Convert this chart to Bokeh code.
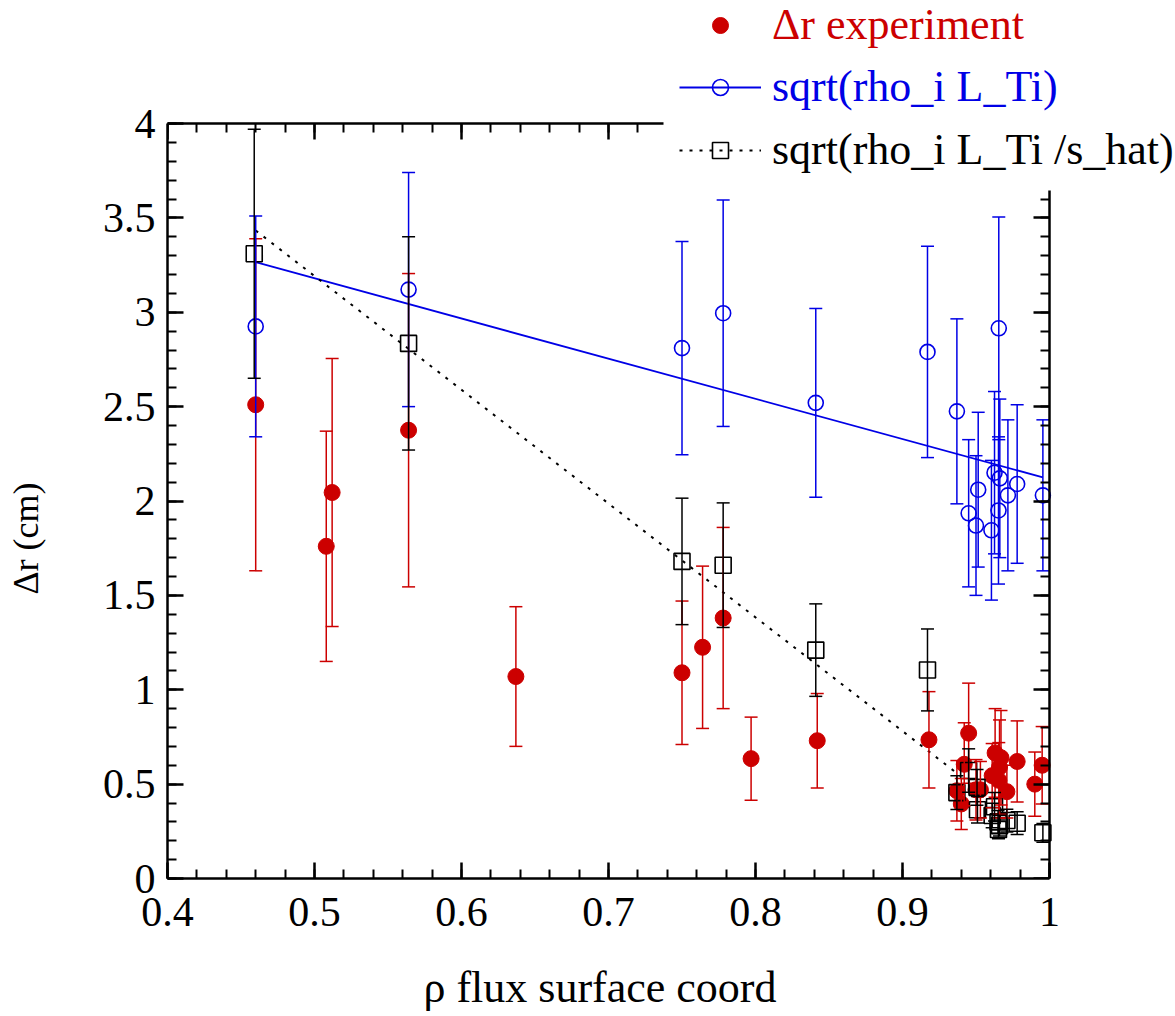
from bokeh.plotting import figure
from bokeh.models import (ColumnDataSource, Whisker, TeeHead, LinearAxis, Legend, LegendItem,
                          SingleIntervalTicker, CustomJSTickFormatter, Range1d)
from bokeh.embed import file_html
from bokeh.resources import INLINE

# ---------------- data ----------------
# Delta r experiment
exp_x = [0.460, 0.508, 0.512, 0.564, 0.637, 0.750, 0.764, 0.778, 0.797, 0.842,
         0.918, 0.937, 0.940, 0.942, 0.945, 0.950, 0.953, 0.961, 0.963, 0.966,
         0.967, 0.9655, 0.971, 0.978, 0.990, 0.995]
exp_y = [2.51, 1.76, 2.045, 2.375, 1.07, 1.09, 1.225, 1.38, 0.635, 0.73,
         0.735, 0.465, 0.395, 0.605, 0.77, 0.47, 0.47, 0.545, 0.665, 0.59,
         0.64, 0.52, 0.46, 0.62, 0.50, 0.60]
exp_err = [0.88, 0.61, 0.71, 0.83, 0.37, 0.38, 0.43, 0.48, 0.22, 0.25,
           0.255, 0.16, 0.135, 0.22, 0.265, 0.16, 0.15, 0.17, 0.235, 0.25,
           0.25, 0.20, 0.14, 0.215, 0.17, 0.205]

# sqrt(rho_i L_Ti)
ti_x = [0.460, 0.564, 0.750, 0.778, 0.841, 0.917, 0.937, 0.945, 0.950, 0.9515,
        0.9605, 0.9626, 0.9653, 0.9655, 0.9662, 0.9717, 0.978, 0.9955]
ti_y = [2.925, 3.12, 2.81, 2.995, 2.52, 2.79, 2.475, 1.935, 1.87, 2.06,
        1.845, 2.15, 1.95, 2.915, 2.12, 2.03, 2.09, 2.03]
ti_err = [0.585, 0.62, 0.565, 0.60, 0.50, 0.56, 0.49, 0.39, 0.37, 0.41,
          0.37, 0.43, 0.39, 0.59, 0.42, 0.40, 0.42, 0.40]

# sqrt(rho_i L_Ti / s_hat)
sh_x = [0.459, 0.564, 0.750, 0.778, 0.841, 0.917, 0.937, 0.945, 0.9507, 0.951,
        0.961, 0.9626, 0.965, 0.966, 0.9653, 0.971, 0.978, 0.9955]
sh_y = [3.31, 2.835, 1.68, 1.66, 1.21, 1.105, 0.455, 0.572, 0.483, 0.364,
        0.334, 0.38, 0.30, 0.28, 0.26, 0.307, 0.293, 0.242]
sh_err = [0.66, 0.565, 0.335, 0.33, 0.245, 0.217, 0.09, 0.115, 0.095, 0.07,
          0.065, 0.075, 0.06, 0.055, 0.05, 0.06, 0.06, 0.05]

# fitted trend lines (end points)
fit_ti_x = [0.46, 0.9955]
fit_ti_y = [3.265, 2.125]
fit_sh_x = [0.46, 0.94]
fit_sh_y = [3.433, 0.54]

x_lo, x_hi = 0.4, 1.0
y_lo, y_hi = 0.0, 4.0
x_ticks_interval = 0.1
y_ticks_interval = 0.5

labels = ["\u0394r experiment", "sqrt(rho_i L_Ti)", "sqrt(rho_i L_Ti /s_hat)"]
x_title = "\u03c1 flux surface coord"
y_title = "\u0394r (cm)"
RED = "#cc0000"
BLUE = "#0000e6"
BLACK = "#000000"
FONT = "Liberation Serif"

# layout geometry (pixels)
W, H = 1175, 1016
FRAME_L, FRAME_R, FRAME_T, FRAME_B = 167, 1049, 123, 878
LEGEND_L, LEGEND_B = 663, 190   # area hidden by the legend box


def src(x, y, e):
    return ColumnDataSource(dict(x=x, y=y,
                                 upper=[a + b for a, b in zip(y, e)],
                                 lower=[a - b for a, b in zip(y, e)]))


# the drawing area extends to the top and right canvas edges so that the
# legend (which overlaps the box corner) is not clipped; the box itself is
# drawn with bounded / fixed-location axes.
px_per_x = (FRAME_R - FRAME_L) / (x_hi - x_lo)
px_per_y = (FRAME_B - FRAME_T) / (y_hi - y_lo)
xr_end = x_lo + (W - FRAME_L) / px_per_x
yr_end = y_lo + FRAME_B / px_per_y
top_bound = x_lo + (LEGEND_L - FRAME_L) / px_per_x
right_bound = y_lo + (FRAME_B - LEGEND_B) / px_per_y

p = figure(width=W, height=H, output_backend="svg", toolbar_location=None,
           x_range=Range1d(x_lo, xr_end), y_range=Range1d(y_lo, yr_end),
           x_axis_type=None, y_axis_type=None,
           min_border_left=FRAME_L, min_border_right=0,
           min_border_top=0, min_border_bottom=H - FRAME_B)
p.outline_line_color = None
p.background_fill_color = "white"
p.border_fill_color = "white"

fmt = CustomJSTickFormatter(code="return String(Math.round(tick*1000)/1000);")


def make_axis(ticker, bounds, show_labels, fixed=None):
    ax = LinearAxis(ticker=ticker, formatter=fmt, bounds=bounds)
    if fixed is not None:
        ax.fixed_location = fixed
    ax.axis_line_width = 2.5
    ax.axis_line_color = "black"
    ax.major_tick_line_width = 2.5
    ax.minor_tick_line_width = 2
    ax.major_tick_in = 16
    ax.major_tick_out = 0
    ax.minor_tick_in = 9
    ax.minor_tick_out = 0
    ax.major_label_text_font = FONT
    ax.major_label_text_color = "black"
    if show_labels:
        ax.major_label_text_font_size = "42px"
    else:
        ax.major_label_text_font_size = "0px"
        ax.major_label_text_alpha = 0
    return ax


NB = "\u00a0"

bottom = make_axis(SingleIntervalTicker(interval=x_ticks_interval, num_minor_ticks=5),
                   (x_lo, x_hi), True)
bottom.axis_label = x_title + NB * 13
bottom.axis_label_text_font = FONT
bottom.axis_label_text_font_style = "normal"
bottom.axis_label_text_font_size = "44px"
bottom.axis_label_text_color = "black"
bottom.axis_label_standoff = 34
bottom.major_label_standoff = 19
p.add_layout(bottom, "below")

left = make_axis(SingleIntervalTicker(interval=y_ticks_interval, num_minor_ticks=5),
                 (y_lo, y_hi), True)
left.axis_label = y_title + NB * 22
left.axis_label_text_font = FONT
left.axis_label_text_font_style = "normal"
left.axis_label_text_font_size = "36px"
left.axis_label_text_color = "black"
left.axis_label_standoff = 54
left.major_label_standoff = 12
p.add_layout(left, "left")

top = make_axis(SingleIntervalTicker(interval=x_ticks_interval, num_minor_ticks=5),
                (x_lo, top_bound), False, fixed=y_hi)
p.add_layout(top, "above")
right = make_axis(SingleIntervalTicker(interval=y_ticks_interval, num_minor_ticks=5),
                  (y_lo, right_bound), False, fixed=x_hi)
p.add_layout(right, "right")

# error bars
for x, y, e, c in [(exp_x, exp_y, exp_err, RED), (ti_x, ti_y, ti_err, BLUE), (sh_x, sh_y, sh_err, BLACK)]:
    s = src(x, y, e)
    w = Whisker(source=s, base="x", upper="upper", lower="lower", dimension="height",
                line_color=c, line_width=1.5,
                upper_head=TeeHead(size=13, line_color=c, line_width=1.5),
                lower_head=TeeHead(size=13, line_color=c, line_width=1.5))
    w.level = "glyph"
    p.add_layout(w)

# trend lines
l_ti = p.line(fit_ti_x, fit_ti_y, line_color=BLUE, line_width=1.8)
l_sh = p.line(fit_sh_x, fit_sh_y, line_color=BLACK, line_width=2, line_dash="3 7")

# markers
r_exp = p.scatter(exp_x, exp_y, marker="circle", size=16, fill_color=RED, line_color=RED)
r_ti = p.scatter(ti_x, ti_y, marker="circle", size=15, fill_color=None, line_color=BLUE, line_width=1.6)
r_sh = p.scatter(sh_x, sh_y, marker="square", size=16, fill_color=None, line_color=BLACK, line_width=1.6)

# legends (one per entry so each label keeps its own colour)
PAD = 14
GH = 40
centers = [24, 86, 149]
items = [[r_exp], [l_ti, r_ti], [l_sh, r_sh]]
colors = [RED, BLUE, BLACK]
for lab, rends, col, cy in zip(labels, items, colors, centers):
    vy = FRAME_B - (cy + GH / 2 + PAD) + 8
    vx = 680 - PAD - FRAME_L + 13
    lg = Legend(items=[LegendItem(label=lab, renderers=rends)], location=(vx, vy))
    lg.padding = PAD
    lg.margin = 0
    lg.spacing = 0
    lg.glyph_width = 82
    lg.glyph_height = GH
    lg.label_height = GH
    lg.label_standoff = 11
    lg.label_text_font = FONT
    lg.label_text_font_size = "44px"
    lg.label_text_color = col
    lg.label_text_baseline = "middle"
    lg.border_line_color = None
    lg.background_fill_color = "white"
    lg.background_fill_alpha = 1.0
    p.add_layout(lg, "center")

open("out.html", "w").write(file_html(p, INLINE))
